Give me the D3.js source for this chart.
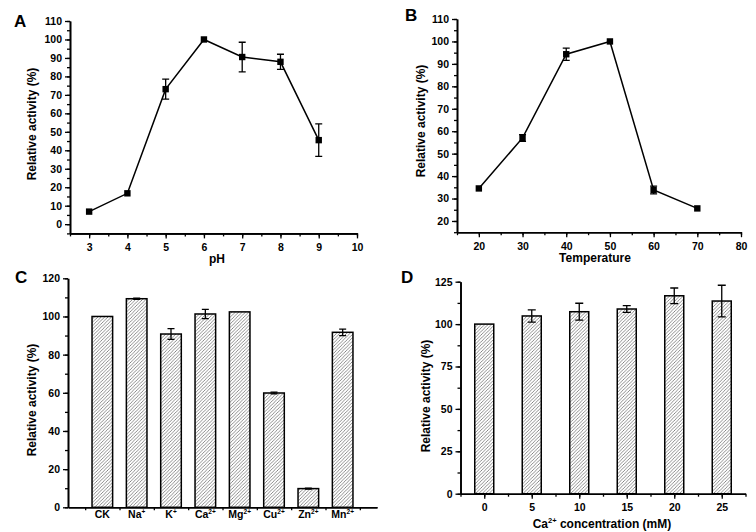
<!DOCTYPE html>
<html>
<head>
<meta charset="utf-8">
<script src="https://cdn.jsdelivr.net/npm/d3@7"></script>
<style>
  html, body { margin: 0; padding: 0; background: #fff; }
  svg { display: block; }
  text { font-family: "Liberation Sans", Arial, sans-serif; font-weight: bold; fill: #000; }
</style>
</head>
<body>
<svg id="chart" width="756" height="532"></svg>
<script>
// ---- Panel A: pH ----
const phValues   = [3, 4, 5, 6, 7, 8, 9];
const phActivity = [6.8, 16.7, 73.1, 100, 90.5, 87.9, 45.5];
const phError    = [0, 0, 5.4, 0, 8, 4.1, 8.8];
const phXTicks   = [3, 4, 5, 6, 7, 8, 9, 10];
const phYTicks   = [0, 10, 20, 30, 40, 50, 60, 70, 80, 90, 100, 110];

// ---- Panel B: Temperature ----
const tempValues   = [20, 30, 40, 50, 60, 70];
const tempActivity = [34.5, 57, 94.3, 100, 33.8, 25.6];
const tempError    = [0, 1.5, 2.7, 0, 1.7, 0];
const tempXTicks   = [20, 30, 40, 50, 60, 70, 80];
const tempYTicks   = [20, 30, 40, 50, 60, 70, 80, 90, 100, 110];

// ---- Panel C: metal ions ----
const ionNames    = ["CK", "Na", "K", "Ca", "Mg", "Cu", "Zn", "Mn"];
const ionCharges  = ["", "+", "+", "2+", "2+", "2+", "2+", "2+"];
const ionActivity = [100, 109.3, 90.8, 101.3, 102.4, 59.9, 9.8, 91.7];
const ionError    = [0, 0.3, 2.8, 2.4, 0, 0.5, 0.3, 1.7];
const ionYTicks   = [0, 20, 40, 60, 80, 100, 120];

// ---- Panel D: Ca2+ concentration ----
const caConc     = [0, 5, 10, 15, 20, 25];
const caActivity = [100, 104.8, 107.3, 108.9, 116.7, 113.6];
const caError    = [0, 3.6, 5, 2, 4.6, 9.3];
const caYTicks   = [0, 25, 50, 75, 100, 125];

const svg = d3.select("#chart");
const defs = svg.append("defs");
const pat = defs.append("pattern")
  .attr("id", "hatch").attr("patternUnits", "userSpaceOnUse")
  .attr("width", 3.4).attr("height", 3.4);
pat.append("rect").attr("width", 3.4).attr("height", 3.4).attr("fill", "#fff");
pat.append("path")
  .attr("d", "M-1,1 L1,-1 M0,3.4 L3.4,0 M2.4,4.4 L4.4,2.4")
  .attr("stroke", "#777").attr("stroke-width", 0.85);

const TICK_FS = 10.5, TITLE_FS = 12, LETTER_FS = 17;

function styleAxis(g) {
  g.selectAll("path.domain").attr("stroke", "#000").attr("stroke-width", 1.6);
  g.selectAll(".tick line").attr("stroke", "#000").attr("stroke-width", 1.3);
  g.selectAll(".tick text").attr("font-size", TICK_FS)
    .style("font-family", '"Liberation Sans", Arial, sans-serif')
    .style("font-weight", "bold").attr("fill", "#000");
}

function drawAxes(x, y, xMajor, xMinor, yMajor, yMinor, xFmt) {
  const x0 = x.range()[0], y0 = y.range()[0];
  const gxm = svg.append("g").attr("transform", `translate(0,${y0})`)
    .call(d3.axisBottom(x).tickValues(xMinor).tickSize(3).tickSizeOuter(0).tickFormat(""));
  styleAxis(gxm);
  const gym = svg.append("g").attr("transform", `translate(${x0},0)`)
    .call(d3.axisLeft(y).tickValues(yMinor).tickSize(3).tickSizeOuter(0).tickFormat(""));
  styleAxis(gym);
  const gx = svg.append("g").attr("transform", `translate(0,${y0})`)
    .call(d3.axisBottom(x).tickValues(xMajor).tickSize(xMajor.length ? 5 : 0).tickSizeOuter(0).tickPadding(5)
      .tickFormat(xFmt || d3.format("d")));
  styleAxis(gx);
  const gy = svg.append("g").attr("transform", `translate(${x0},0)`)
    .call(d3.axisLeft(y).tickValues(yMajor).tickSize(5).tickSizeOuter(0).tickPadding(3).tickFormat(d3.format("d")));
  styleAxis(gy);
  return { gx, gy };
}

function yTitle(cx, cy) {
  svg.append("text").attr("transform", `translate(${cx},${cy}) rotate(-90)`)
    .attr("text-anchor", "middle").attr("dominant-baseline", "middle")
    .attr("font-size", TITLE_FS).text("Relative activity (%)");
}
function letter(x, y, t) {
  svg.append("text").attr("x", x).attr("y", y).attr("font-size", LETTER_FS).text(t);
}
function halves(a, b, step) {
  const out = [];
  for (let v = a; v <= b + 1e-9; v += step) out.push(+v.toFixed(3));
  return out;
}

function errorBars(xs, ys, es, x, y, cap) {
  xs.forEach((xv, i) => {
    if (!es[i]) return;
    const cx = x(xv), top = y(ys[i] + es[i]), bot = y(ys[i] - es[i]);
    svg.append("path")
      .attr("d", `M${cx},${top}V${bot}M${cx - cap},${top}H${cx + cap}M${cx - cap},${bot}H${cx + cap}`)
      .attr("stroke", "#000").attr("stroke-width", 1.3).attr("fill", "none");
  });
}

function linePanel(xs, ys, es, x, y) {
  const pts = xs.map((v, i) => [v, ys[i]]);
  svg.append("path").datum(pts)
    .attr("d", d3.line().x(d => x(d[0])).y(d => y(d[1])))
    .attr("fill", "none").attr("stroke", "#000").attr("stroke-width", 1.5);
  errorBars(xs, ys, es, x, y, 3.5);
  svg.selectAll(null).data(pts).enter().append("rect")
    .attr("x", d => x(d[0]) - 3.2).attr("y", d => y(d[1]) - 3.2)
    .attr("width", 6.4).attr("height", 6.4).attr("fill", "#000");
}

// ===== Panel A =====
{
  const x = d3.scaleLinear().domain([2.5, 10]).range([70, 357]);
  const y = d3.scaleLinear().domain([-5, 110]).range([233.4, 21]);
  drawAxes(x, y, phXTicks, halves(2.5, 10, 0.5), phYTicks, halves(-5, 110, 5));
  linePanel(phValues, phActivity, phError, x, y);
  yTitle(33, 124);
  svg.append("text").attr("x", 217).attr("y", 263).attr("text-anchor", "middle")
    .attr("font-size", TITLE_FS).text("pH");
  letter(14, 27, "A");
}

// ===== Panel B =====
{
  const x = d3.scaleLinear().domain([15, 80]).range([457, 741]);
  const y = d3.scaleLinear().domain([15, 110]).range([232.2, 19]);
  drawAxes(x, y, tempXTicks, halves(15, 80, 5), tempYTicks, halves(15, 110, 5));
  linePanel(tempValues, tempActivity, tempError, x, y);
  yTitle(421.5, 121);
  svg.append("text").attr("x", 595).attr("y", 262).attr("text-anchor", "middle")
    .attr("font-size", TITLE_FS).text("Temperature");
  letter(405, 21, "B");
}

// ===== Panel C =====
{
  const pos = ionNames.map((d, i) => i + 1);
  const x = d3.scaleLinear().domain([0, 9]).range([68, 377]);
  const y = d3.scaleLinear().domain([0, 120]).range([507.3, 278.3]);
  const bw = 0.6;
  svg.selectAll(null).data(pos).enter().append("rect")
    .attr("x", d => x(d - bw / 2)).attr("width", d => x(d + bw / 2) - x(d - bw / 2))
    .attr("y", (d, i) => y(ionActivity[i])).attr("height", (d, i) => y(0) - y(ionActivity[i]))
    .attr("fill", "url(#hatch)").attr("stroke", "#000").attr("stroke-width", 1.5);
  errorBars(pos, ionActivity, ionError, x, y, 3.5);
  drawAxes(x, y, [], halves(0.5, 8.5, 1), ionYTicks, halves(0, 120, 10));
  pos.forEach((p, i) => {
    const t = svg.append("text").attr("x", x(p)).attr("y", 518).attr("text-anchor", "middle")
      .attr("font-size", TICK_FS);
    t.append("tspan").text(ionNames[i]);
    if (ionCharges[i]) t.append("tspan").attr("dy", -4.5).attr("font-size", 6.5).text(ionCharges[i]);
  });
  yTitle(33, 400);
  letter(15, 283, "C");
}

// ===== Panel D =====
{
  const x = d3.scaleLinear().domain([-2.5, 27.5]).range([460.5, 745.5]);
  const y = d3.scaleLinear().domain([0, 125]).range([493.7, 281.7]);
  const bw = 2;
  svg.selectAll(null).data(caConc).enter().append("rect")
    .attr("x", d => x(d - bw / 2)).attr("width", d => x(d + bw / 2) - x(d - bw / 2))
    .attr("y", (d, i) => y(caActivity[i])).attr("height", (d, i) => y(0) - y(caActivity[i]))
    .attr("fill", "url(#hatch)").attr("stroke", "#000").attr("stroke-width", 1.5);
  errorBars(caConc, caActivity, caError, x, y, 4);
  drawAxes(x, y, caConc, halves(-2.5, 27.5, 2.5), caYTicks, halves(0, 125, 12.5));
  yTitle(426.5, 396);
  const t = svg.append("text").attr("x", 602).attr("y", 528).attr("text-anchor", "middle")
    .attr("font-size", TITLE_FS);
  t.append("tspan").text("Ca");
  t.append("tspan").attr("dy", -5).attr("font-size", 7.5).text("2+");
  t.append("tspan").attr("dy", 5).text(" concentration (mM)");
  letter(401, 283, "D");
}
</script>
</body>
</html>
